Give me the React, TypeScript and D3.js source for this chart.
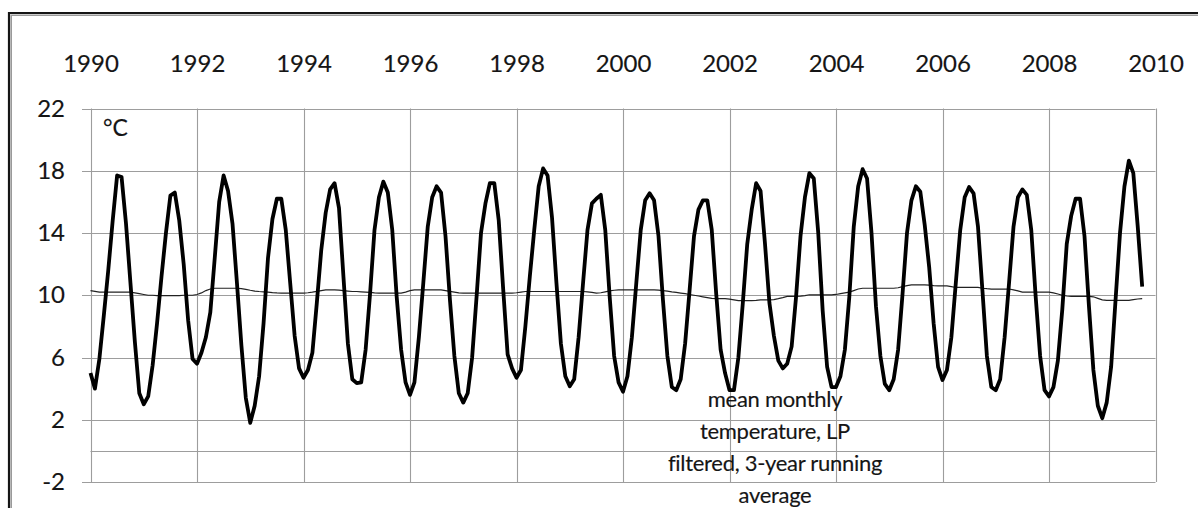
import { useEffect, useRef } from "react";
import * as d3 from "d3";

// monthly mean temperature, Jan 1990 .. Oct 2009 (°C)
const monthlyTemp: number[] = [
  5.0, 4.0, 5.9, 8.7, 11.6, 14.8, 17.7, 17.6, 14.6, 10.8, 7.0, 3.7, // 1990
  3.0, 3.5, 5.5, 8.2, 11.2, 14.0, 16.4, 16.6, 14.8, 12.0, 8.4, 5.9, // 1991
  5.6, 6.3, 7.3, 8.9, 12.4, 16.0, 17.7, 16.7, 14.6, 10.8, 6.8, 3.4, // 1992
  1.8, 2.9, 4.8, 8.2, 12.4, 14.9, 16.2, 16.2, 14.2, 10.8, 7.4, 5.3, // 1993
  4.7, 5.2, 6.3, 9.5, 12.9, 15.3, 16.8, 17.2, 15.6, 11.2, 6.9, 4.6, // 1994
  4.35, 4.4, 6.5, 10.1, 14.2, 16.3, 17.3, 16.6, 14.2, 9.9, 6.5, 4.4, // 1995
  3.6, 4.4, 7.3, 10.8, 14.4, 16.3, 17.0, 16.6, 13.8, 9.7, 6.1, 3.7, // 1996
  3.1, 3.7, 6.0, 9.9, 14.0, 15.9, 17.2, 17.2, 14.8, 10.4, 6.2, 5.3, // 1997
  4.7, 5.2, 8.0, 11.2, 14.2, 17.0, 18.15, 17.7, 15.0, 10.8, 6.9, 4.8, // 1998
  4.15, 4.6, 7.3, 10.8, 14.2, 15.9, 16.2, 16.45, 14.2, 9.9, 6.1, 4.4, // 1999
  3.8, 4.8, 7.3, 10.8, 14.2, 16.1, 16.55, 16.1, 13.8, 9.7, 6.1, 4.1, // 2000
  3.9, 4.6, 6.9, 10.3, 13.8, 15.5, 16.1, 16.1, 14.2, 10.1, 6.5, 5.0, // 2001
  3.9, 3.9, 6.0, 9.5, 13.3, 15.5, 17.2, 16.7, 13.3, 9.5, 7.4, 5.8, // 2002
  5.3, 5.6, 6.7, 9.9, 13.8, 16.3, 17.85, 17.5, 14.0, 9.0, 5.4, 4.1, // 2003
  4.1, 4.8, 6.5, 9.9, 14.4, 17.0, 18.1, 17.5, 14.0, 9.3, 6.1, 4.3, // 2004
  3.9, 4.6, 6.5, 10.1, 14.0, 16.1, 17.0, 16.65, 14.5, 11.8, 8.2, 5.4, // 2005
  4.55, 5.2, 7.3, 10.8, 14.2, 16.3, 16.95, 16.55, 14.4, 10.3, 6.1, 4.1, // 2006
  3.9, 4.6, 7.3, 10.8, 14.4, 16.3, 16.8, 16.45, 14.2, 9.9, 6.1, 3.9, // 2007
  3.5, 4.1, 5.8, 9.1, 13.3, 15.1, 16.2, 16.2, 13.8, 9.3, 5.2, 2.9, // 2008
  2.1, 3.1, 5.4, 9.7, 14.0, 17.0, 18.65, 17.85, 14.4, 10.55, // 2009
];

// LP filtered, 3-year running average
const runningMean: number[] = [
  10.3, 10.25, 10.2, 10.2, 10.2, 10.2, 10.2, 10.2, 10.2, 10.2, 10.15, 10.1, // 1990
  10.05, 10.0, 10.0, 9.98, 9.97, 9.97, 9.97, 9.97, 9.98, 10.0, 10.0, 10.0, // 1991
  10.05, 10.15, 10.3, 10.4, 10.45, 10.45, 10.45, 10.45, 10.45, 10.45, 10.42, 10.38, // 1992
  10.32, 10.27, 10.24, 10.22, 10.2, 10.17, 10.15, 10.14, 10.14, 10.14, 10.14, 10.14, // 1993
  10.14, 10.16, 10.2, 10.25, 10.3, 10.35, 10.35, 10.35, 10.33, 10.3, 10.27, 10.24, // 1994
  10.24, 10.22, 10.2, 10.18, 10.15, 10.14, 10.14, 10.14, 10.14, 10.14, 10.14, 10.2, // 1995
  10.3, 10.35, 10.35, 10.35, 10.35, 10.35, 10.35, 10.35, 10.3, 10.25, 10.2, 10.15, // 1996
  10.14, 10.14, 10.14, 10.14, 10.14, 10.14, 10.14, 10.14, 10.14, 10.14, 10.14, 10.14, // 1997
  10.16, 10.2, 10.24, 10.24, 10.24, 10.24, 10.24, 10.24, 10.24, 10.24, 10.24, 10.24, // 1998
  10.24, 10.24, 10.24, 10.24, 10.22, 10.18, 10.14, 10.16, 10.22, 10.28, 10.32, 10.35, // 1999
  10.35, 10.35, 10.35, 10.35, 10.35, 10.35, 10.35, 10.35, 10.33, 10.3, 10.27, 10.22, // 2000
  10.18, 10.14, 10.1, 10.05, 10.0, 9.95, 9.9, 9.85, 9.8, 9.78, 9.78, 9.78, // 2001
  9.75, 9.7, 9.65, 9.65, 9.65, 9.65, 9.67, 9.7, 9.7, 9.7, 9.72, 9.78, // 2002
  9.85, 9.93, 9.93, 9.93, 9.95, 9.98, 10.03, 10.03, 10.03, 10.03, 10.03, 10.03, // 2003
  10.05, 10.1, 10.15, 10.2, 10.3, 10.4, 10.45, 10.45, 10.45, 10.45, 10.45, 10.45, // 2004
  10.45, 10.45, 10.48, 10.55, 10.62, 10.67, 10.67, 10.67, 10.67, 10.65, 10.62, 10.6, // 2005
  10.6, 10.6, 10.55, 10.5, 10.5, 10.5, 10.5, 10.5, 10.5, 10.45, 10.42, 10.4, // 2006
  10.4, 10.4, 10.4, 10.4, 10.35, 10.28, 10.2, 10.2, 10.2, 10.2, 10.2, 10.2, // 2007
  10.2, 10.15, 10.08, 10.0, 9.95, 9.93, 9.93, 9.93, 9.93, 9.93, 9.9, 9.8, // 2008
  9.7, 9.67, 9.67, 9.67, 9.67, 9.67, 9.67, 9.72, 9.76, 9.78, // 2009
];

const START_YEAR = 1990;
const xTicks = [1990, 1992, 1994, 1996, 1998, 2000, 2002, 2004, 2006, 2008, 2010];
const yTicks = [22, 18, 14, 10, 6, 2, -2];
const noteLines = [
  "mean monthly",
  "temperature, LP",
  "filtered, 3-year running",
  "average",
];

const FONT = "Lato, 'Open Sans', sans-serif";
const INK = "#151515";

export default function App() {
  const ref = useRef<SVGSVGElement>(null);

  useEffect(() => {
    const el = ref.current;
    if (!el) return;
    const svg = d3.select(el);
    svg.selectAll("*").remove();

    const x = d3.scaleLinear().domain([1990, 2010]).range([90.5, 1155.5]);
    const y = d3.scaleLinear().domain([-2, 22]).range([482, 108.5]);
    const snap = (v: number) => Math.round(v) + 0.5;

    // outer frame (only top + left edges are in view)
    svg
      .append("path")
      .attr("d", "M9,508 V13 H1198")
      .attr("fill", "none")
      .attr("stroke", INK)
      .attr("stroke-width", 2.2);
    svg
      .append("path")
      .attr("d", "M11.2,508 V15.2 H1198")
      .attr("fill", "none")
      .attr("stroke", "#9a9a9a")
      .attr("stroke-width", 1.6);

    const grid = svg.append("g").attr("stroke", "#9d9d9d").attr("stroke-width", 1.1);

    // horizontal gridlines + outside tick marks
    grid
      .selectAll("line.h")
      .data(yTicks)
      .join("line")
      .attr("class", "h")
      .attr("x1", 82)
      .attr("x2", x(2010))
      .attr("y1", (d) => snap(y(d)))
      .attr("y2", (d) => snap(y(d)));

    // category axis crossing at 0
    grid
      .append("line")
      .attr("x1", x(1990))
      .attr("x2", x(2010))
      .attr("y1", snap(y(0)))
      .attr("y2", snap(y(0)));

    // vertical gridlines
    grid
      .selectAll("line.v")
      .data(xTicks)
      .join("line")
      .attr("class", "v")
      .attr("x1", (d) => snap(x(d)))
      .attr("x2", (d) => snap(x(d)))
      .attr("y1", y(22))
      .attr("y2", y(-2));

    const styleText = (g: d3.Selection<any, any, any, any>, size: number) =>
      g
        .selectAll("text")
        .attr("font-family", FONT)
        .attr("font-size", size)
        .attr("fill", INK)
        .attr("stroke", INK)
        .attr("stroke-width", 0.15);

    // year labels on top
    svg
      .append("g")
      .attr("transform", "translate(0,72)")
      .call(d3.axisTop(x).tickValues(xTicks).tickSize(0).tickPadding(0).tickFormat(d3.format("d")))
      .call((g) => g.select(".domain").remove())
      .call((g) => styleText(g, 24));

    // value labels on the left
    svg
      .append("g")
      .attr("transform", "translate(82,0)")
      .call(
        d3
          .axisLeft(y)
          .tickValues(yTicks)
          .tickSize(0)
          .tickPadding(17)
          .tickFormat((d) => String(d))
      )
      .call((g) => g.select(".domain").remove())
      .call((g) => styleText(g, 24));

    svg
      .append("text")
      .attr("x", 103)
      .attr("y", 136)
      .attr("font-family", FONT)
      .attr("font-size", 23)
      .attr("fill", INK)
      .attr("stroke", INK)
      .attr("stroke-width", 0.15)
      .text("°C");

    const monthX = (i: number) => x(START_YEAR + i / 12);

    const line = d3
      .line<number>()
      .x((_, i) => monthX(i))
      .y((d) => y(d));

    svg
      .append("path")
      .datum(runningMean)
      .attr("d", line)
      .attr("fill", "none")
      .attr("stroke", "#222")
      .attr("stroke-width", 1.2);

    svg
      .append("path")
      .datum(monthlyTemp)
      .attr("d", line)
      .attr("fill", "none")
      .attr("stroke", "#000")
      .attr("stroke-width", 3.8)
      .attr("stroke-linejoin", "round");

    // annotation
    const note = svg.append("g");
    note
      .selectAll("text")
      .data(noteLines)
      .join("text")
      .attr("x", 775)
      .attr("y", (_, i) => 407 + i * 32)
      .attr("text-anchor", "middle")
      .attr("letter-spacing", -0.3)
      .text((d) => d);
    styleText(note, 22);
  }, []);

  return (
    <div style={{ position: "fixed", left: 0, top: 0 }}>
      <svg ref={ref} width={1198} height={508} style={{ display: "block", background: "#fff" }} />
    </div>
  );
}
